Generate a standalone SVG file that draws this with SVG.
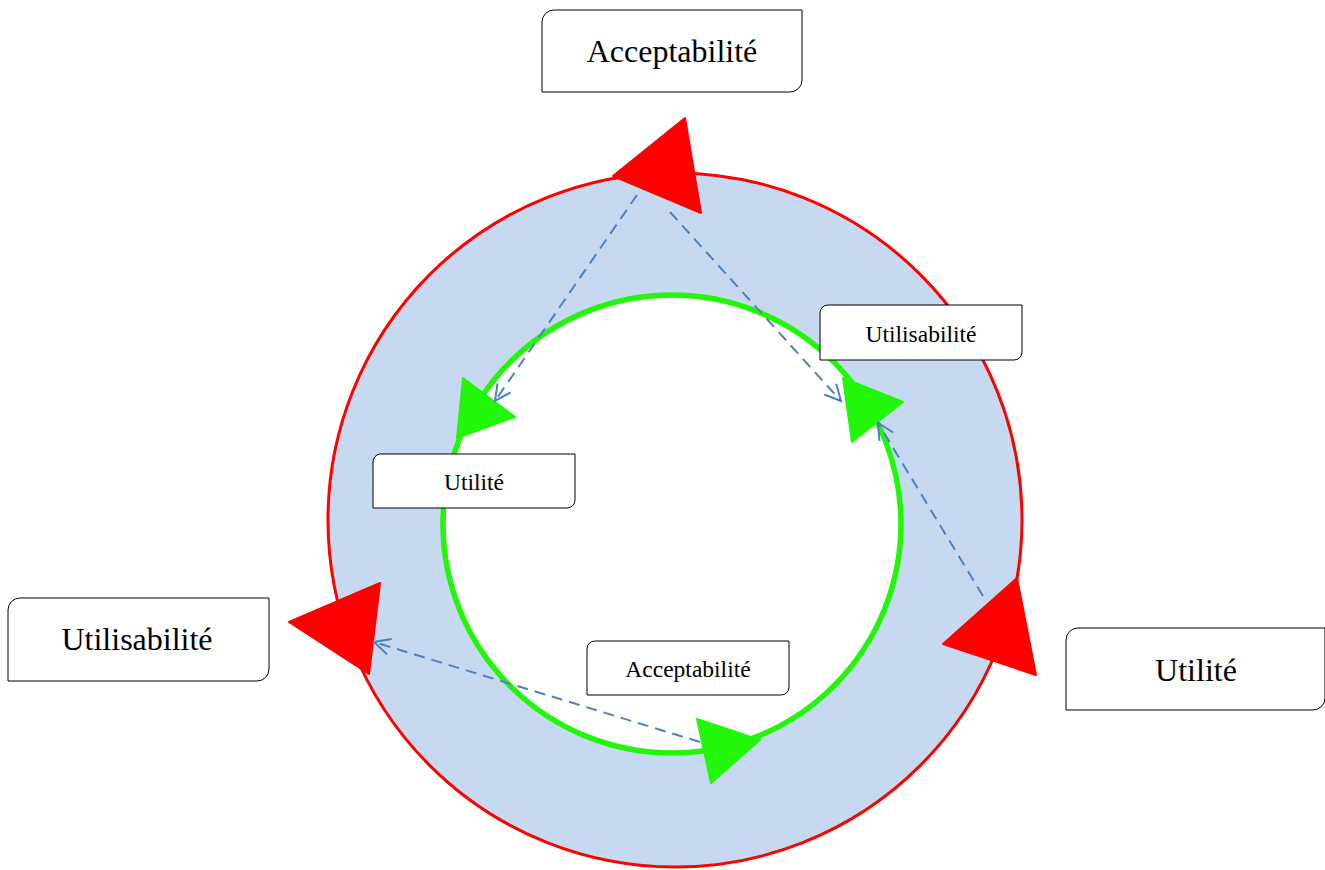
<svg xmlns="http://www.w3.org/2000/svg" width="1325" height="870" viewBox="0 0 1325 870">
<style>
.box{fill:#fff;stroke:#000;stroke-width:1}
.lbl{font-family:"Liberation Serif","Times New Roman",serif;fill:#000;text-anchor:middle}
.big{font-size:32px}
.small{font-size:23.5px}
.red{fill:#ff0000;stroke:#ff0000;stroke-width:2;stroke-linejoin:round}
.grn{fill:#22f70a;stroke:#22f70a;stroke-width:2;stroke-linejoin:round}
.dash{fill:none;stroke:#4f81bd;stroke-width:2;stroke-dasharray:11 7;marker-end:url(#open)}
</style>
<defs>
<marker id="open" viewBox="0 0 20 20" refX="18" refY="10" markerWidth="20" markerHeight="20" markerUnits="userSpaceOnUse" orient="auto">
<path d="M2,2 L18,10 L2,18" fill="none" stroke="#4f81bd" stroke-width="2"/>
</marker>
</defs>
<rect width="1325" height="870" fill="#fff"/>
<g id="ring">
<circle cx="675" cy="520" r="347" fill="#c6d9f0" stroke="#ff0000" stroke-width="3"/>
<circle cx="672" cy="524" r="229" fill="#fff" stroke="#22f70a" stroke-width="5.5"/>
</g>
<g id="arrowheads">
<polygon class="red" points="613,176 685,118 701,213"/>
<polygon class="red" points="289,622 380,583 369,674"/>
<polygon class="red" points="943,644 1017,578 1036,675"/>
<polygon class="grn" points="463,378 515,417 457,438"/>
<polygon class="grn" points="843,378 903,402 852,442"/>
<polygon class="grn" points="697,719 760,740 711,783"/>
</g>
<g id="connectors">
<line class="dash" x1="637" y1="195" x2="495" y2="401"/>
<line class="dash" x1="670" y1="212" x2="841" y2="401"/>
<line class="dash" x1="983" y1="596" x2="878" y2="423"/>
<line class="dash" x1="700" y1="742" x2="374" y2="642"/>
</g>
<g id="n-acceptabilite-top">
<path class="box" d="M554,10 H802 V80 A12,12 0 0 1 790,92 H542 V22 A12,12 0 0 1 554,10 Z"/>
<text class="lbl big" x="672" y="62">Acceptabilité</text>
</g>
<g id="n-utilisabilite-left">
<path class="box" d="M20,598 H269 V669 A12,12 0 0 1 257,681 H8 V610 A12,12 0 0 1 20,598 Z"/>
<text class="lbl big" x="137" y="650">Utilisabilité</text>
</g>
<g id="n-utilite-right">
<path class="box" d="M1078,628 H1325 V698 A12,12 0 0 1 1313,710 H1066 V640 A12,12 0 0 1 1078,628 Z"/>
<text class="lbl big" x="1196" y="681">Utilité</text>
</g>
<g id="n-utilisabilite-small">
<path class="box" d="M828,305 H1022 V352 A8,8 0 0 1 1014,360 H820 V313 A8,8 0 0 1 828,305 Z"/>
<text class="lbl small" x="921" y="342">Utilisabilité</text>
</g>
<g id="n-utilite-small">
<path class="box" d="M380,454 H575 V500 A8,8 0 0 1 567,508 H373 V462 A8,8 0 0 1 380,454 Z"/>
<text class="lbl small" x="474" y="490">Utilité</text>
</g>
<g id="n-acceptabilite-small">
<path class="box" d="M595,641 H789 V687 A8,8 0 0 1 781,695 H587 V649 A8,8 0 0 1 595,641 Z"/>
<text class="lbl small" x="688" y="677">Acceptabilité</text>
</g>
</svg>
